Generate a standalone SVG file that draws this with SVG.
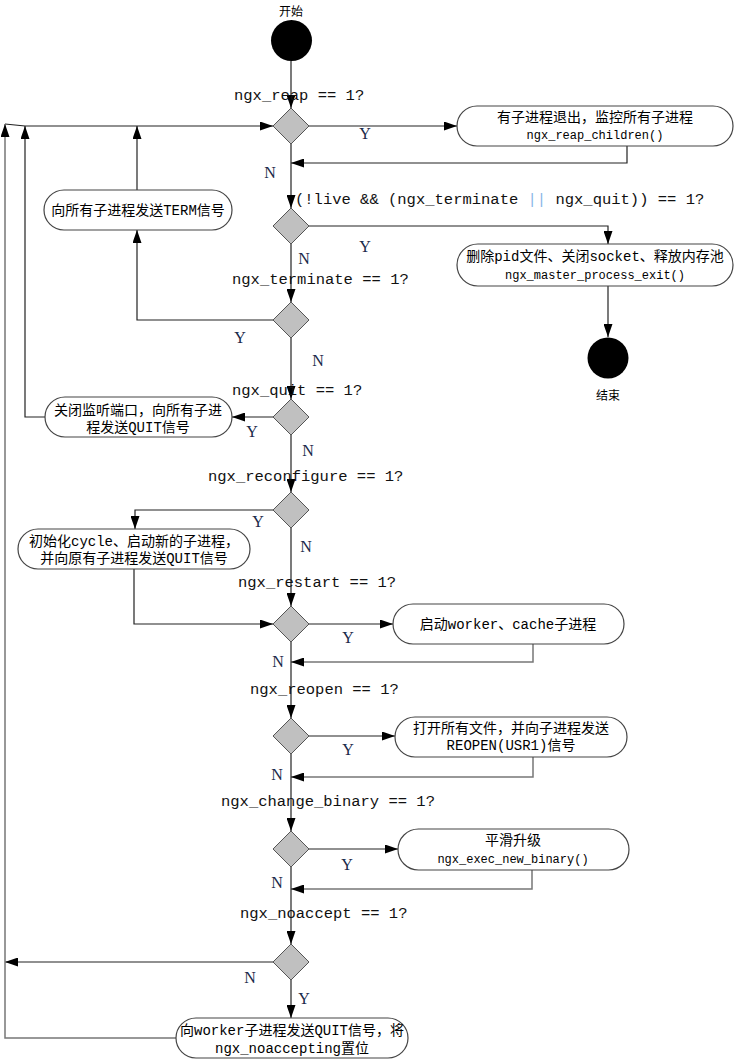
<svg xmlns="http://www.w3.org/2000/svg" width="734" height="1062" viewBox="0 0 734 1062">
<defs>
<marker id="arr" markerUnits="userSpaceOnUse" markerWidth="13" markerHeight="9" refX="13" refY="4.5" orient="auto">
<path d="M0,0 L13,4.5 L0,9 z" fill="#000"/>
</marker>
<style>
.ln{fill:none;stroke:#222;stroke-width:1.2}
.lg{fill:none;stroke:#777;stroke-width:1.5}
.dia{fill:#c0c0c0;stroke:#555;stroke-width:1}
.nd{fill:#fff;stroke:#444;stroke-width:1.2}
.cj{font-family:"Liberation Mono","Noto Sans CJK SC",monospace;font-size:14px;fill:#000;text-anchor:middle}
.mo{font-family:"Liberation Mono",monospace;font-size:12px;fill:#000;text-anchor:middle}
.lb{font-family:"Liberation Mono",monospace;font-size:15.5px;fill:#111}
.yn{font-family:"Liberation Serif",serif;font-size:16px;fill:#1a2a4a;text-anchor:middle}
.sm{font-family:"Noto Sans CJK SC",sans-serif;font-size:12px;fill:#000;text-anchor:middle}
</style>
</defs>
<g id="connectors">
<line class="ln" x1="291" y1="61" x2="291" y2="108" marker-end="url(#arr)"/>
<line class="ln" x1="309" y1="126" x2="457" y2="126" marker-end="url(#arr)"/>
<polyline class="ln" points="627,146 627,163 291,163" marker-end="url(#arr)"/>
<line class="ln" x1="291" y1="144" x2="291" y2="208" marker-end="url(#arr)"/>
<polyline class="ln" points="309,226 608,226 608,244" marker-end="url(#arr)"/>
<line class="ln" x1="608" y1="286" x2="608" y2="337" marker-end="url(#arr)"/>
<line class="ln" x1="291" y1="244" x2="291" y2="302" marker-end="url(#arr)"/>
<polyline class="ln" points="273,320 137,320 137,230" marker-end="url(#arr)"/>
<line class="ln" x1="137" y1="190" x2="137" y2="126" marker-end="url(#arr)"/>
<line class="ln" x1="291" y1="338" x2="291" y2="399" marker-end="url(#arr)"/>
<line class="ln" x1="273" y1="417" x2="232" y2="417" marker-end="url(#arr)"/>
<polyline class="ln" points="45,417 25,417 25,126" marker-end="url(#arr)"/>
<polyline class="ln" points="5,124 25,126 273,126" marker-end="url(#arr)"/>
<line class="ln" x1="291" y1="435" x2="291" y2="492" marker-end="url(#arr)"/>
<polyline class="ln" points="273,510 135,510 135,529" marker-end="url(#arr)"/>
<polyline class="ln" points="134,569 134,624 273,624" marker-end="url(#arr)"/>
<line class="ln" x1="291" y1="528" x2="291" y2="606" marker-end="url(#arr)"/>
<line class="ln" x1="309" y1="624" x2="393" y2="624" marker-end="url(#arr)"/>
<polyline class="lg" points="533,644 533,662 291,662" marker-end="url(#arr)"/>
<line class="ln" x1="291" y1="642" x2="291" y2="718" marker-end="url(#arr)"/>
<line class="ln" x1="309" y1="736" x2="395" y2="736" marker-end="url(#arr)"/>
<polyline class="lg" points="533,757 533,777 291,777" marker-end="url(#arr)"/>
<line class="ln" x1="291" y1="754" x2="291" y2="831" marker-end="url(#arr)"/>
<line class="ln" x1="309" y1="849" x2="398" y2="849" marker-end="url(#arr)"/>
<polyline class="lg" points="532,870 532,889 291,889" marker-end="url(#arr)"/>
<line class="ln" x1="291" y1="867" x2="291" y2="944" marker-end="url(#arr)"/>
<line class="ln" x1="273" y1="962" x2="5" y2="962" marker-end="url(#arr)"/>
<line class="ln" x1="291" y1="980" x2="291" y2="1018" marker-end="url(#arr)"/>
<polyline class="lg" points="176,1038 5,1038 5,124" marker-end="url(#arr)"/>
</g>
<g id="labels">
<text class="lb" x="234" y="100">ngx_reap == 1?</text>
<text class="lb" x="295" y="204">(!live &amp;&amp; (ngx_terminate <tspan fill="#8ab8e8">||</tspan> ngx_quit)) == 1?</text>
<text class="lb" x="232" y="284">ngx_terminate == 1?</text>
<text class="lb" x="232" y="395">ngx_quit == 1?</text>
<text class="lb" x="208" y="481">ngx_reconfigure == 1?</text>
<text class="lb" x="238" y="587">ngx_restart == 1?</text>
<text class="lb" x="250" y="694">ngx_reopen == 1?</text>
<text class="lb" x="221" y="806">ngx_change_binary == 1?</text>
<text class="lb" x="240" y="918">ngx_noaccept == 1?</text>
<text class="yn" x="365" y="139">Y</text>
<text class="yn" x="270" y="178">N</text>
<text class="yn" x="365" y="252">Y</text>
<text class="yn" x="304" y="264">N</text>
<text class="yn" x="240" y="343">Y</text>
<text class="yn" x="318" y="366">N</text>
<text class="yn" x="252" y="437">Y</text>
<text class="yn" x="308" y="456">N</text>
<text class="yn" x="258" y="527">Y</text>
<text class="yn" x="306" y="552">N</text>
<text class="yn" x="348" y="643">Y</text>
<text class="yn" x="278" y="667">N</text>
<text class="yn" x="348" y="755">Y</text>
<text class="yn" x="277" y="780">N</text>
<text class="yn" x="347" y="870">Y</text>
<text class="yn" x="277" y="888">N</text>
<text class="yn" x="250" y="983">N</text>
<text class="yn" x="304" y="1004">Y</text>
</g>
<g id="start">
<circle cx="291.5" cy="40.5" r="20.5" fill="#000"/>
<text class="sm" x="291" y="16">开始</text>
</g>
<g id="end">
<circle cx="608" cy="358" r="20.5" fill="#000"/>
<text class="sm" x="608" y="400">结束</text>
</g>
<g id="d_reap"><polygon class="dia" points="291,108 309,126 291,144 273,126"/></g>
<g id="d_live"><polygon class="dia" points="291,208 309,226 291,244 273,226"/></g>
<g id="d_terminate"><polygon class="dia" points="291,302 309,320 291,338 273,320"/></g>
<g id="d_quit"><polygon class="dia" points="291,399 309,417 291,435 273,417"/></g>
<g id="d_reconfigure"><polygon class="dia" points="291,492 309,510 291,528 273,510"/></g>
<g id="d_restart"><polygon class="dia" points="291,606 309,624 291,642 273,624"/></g>
<g id="d_reopen"><polygon class="dia" points="291,718 309,736 291,754 273,736"/></g>
<g id="d_binary"><polygon class="dia" points="291,831 309,849 291,867 273,849"/></g>
<g id="d_noaccept"><polygon class="dia" points="291,944 309,962 291,980 273,962"/></g>
<g id="n_reap">
<rect class="nd" x="457" y="106" width="276" height="40" rx="20"/>
<text class="cj" x="595" y="122" font-size="14.5">有子进程退出，监控所有子进程</text>
<text class="mo" x="595" y="139">ngx_reap_children()</text>
</g>
<g id="n_exit">
<rect class="nd" x="457" y="244" width="276" height="42" rx="21"/>
<text class="cj" x="595" y="261">删除pid文件、关闭socket、释放内存池</text>
<text class="mo" x="595" y="279">ngx_master_process_exit()</text>
</g>
<g id="n_term">
<rect class="nd" x="44" y="190" width="188" height="40" rx="20"/>
<text class="cj" x="138" y="215">向所有子进程发送TERM信号</text>
</g>
<g id="n_quit">
<rect class="nd" x="45" y="397" width="187" height="40" rx="20"/>
<text class="cj" x="138" y="415">关闭监听端口，向所有子进</text>
<text class="cj" x="138" y="432">程发送QUIT信号</text>
</g>
<g id="n_reconfigure">
<rect class="nd" x="18" y="529" width="232" height="40" rx="20"/>
<text class="cj" x="134" y="546">初始化cycle、启动新的子进程，</text>
<text class="cj" x="134" y="563">并向原有子进程发送QUIT信号</text>
</g>
<g id="n_restart">
<rect class="nd" x="393" y="604" width="231" height="40" rx="20"/>
<text class="cj" x="508" y="629">启动worker、cache子进程</text>
</g>
<g id="n_reopen">
<rect class="nd" x="395" y="717" width="232" height="40" rx="20"/>
<text class="cj" x="511" y="733">打开所有文件，并向子进程发送</text>
<text class="cj" x="511" y="750">REOPEN(USR1)信号</text>
</g>
<g id="n_binary">
<rect class="nd" x="398" y="829" width="231" height="41" rx="20.5"/>
<text class="cj" x="513" y="845">平滑升级</text>
<text class="mo" x="513" y="863">ngx_exec_new_binary()</text>
</g>
<g id="n_noaccept">
<rect class="nd" x="176" y="1018" width="232" height="40" rx="20"/>
<text class="cj" x="292" y="1035">向worker子进程发送QUIT信号，将</text>
<text class="cj" x="292" y="1053">ngx_noaccepting置位</text>
</g>
</svg>
